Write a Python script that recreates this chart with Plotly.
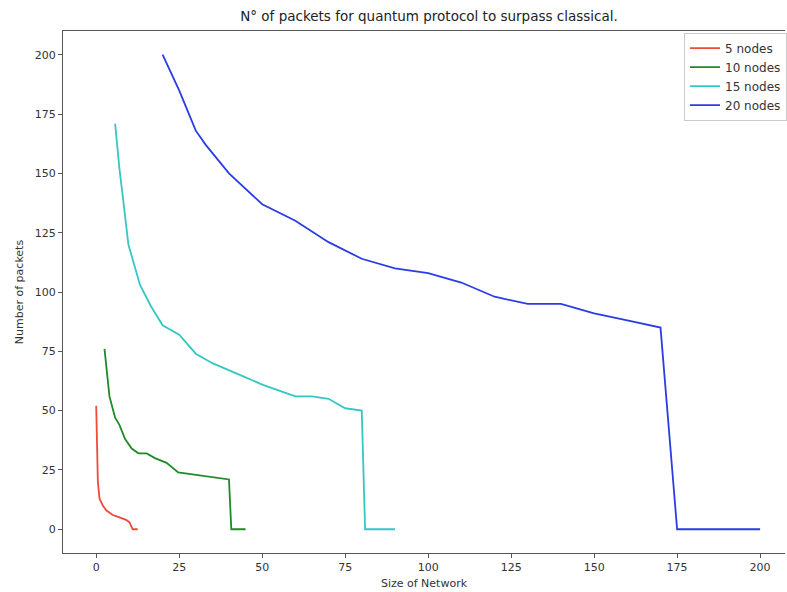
import plotly.graph_objects as go

# 5 nodes
x5 = [0, 0.5, 1, 2, 3, 4, 5, 6, 7, 8, 9, 10, 11, 12.5]
y5 = [52, 20, 13, 10, 8, 7, 6, 5.5, 5, 4.5, 4, 3, 0, 0]

# 10 nodes
x10 = [2.5, 4, 5.7, 7, 8.7, 10.7, 12.7, 15.2, 17.7, 21.2, 24.7, 40, 40.7, 45]
y10 = [76, 56, 47, 44, 38, 34, 32, 32, 30, 28, 24, 21, 0, 0]

# 15 nodes
x15 = [5.7, 7, 8.2, 9.7, 13.2, 16.5, 20, 25, 30, 35, 45, 50, 60, 65, 70, 75, 80, 81, 90]
y15 = [171, 152, 138, 120, 103, 94, 86, 82, 74, 70, 64, 61, 56, 56, 55, 51, 50, 0, 0]

# 20 nodes
x20 = [20, 25, 30, 33, 40, 50, 60, 70, 80, 90, 100, 110, 120, 130, 140, 150, 160, 170, 175, 200]
y20 = [200, 185, 168, 162, 150, 137, 130, 121, 114, 110, 108, 104, 98, 95, 95, 91, 88, 85, 0, 0]

names = ["5 nodes", "10 nodes", "15 nodes", "20 nodes"]
colors = ["#f04a3a", "#1f8a2a", "#34c8c2", "#2b3be6"]

xticks = [0, 25, 50, 75, 100, 125, 150, 175, 200]
yticks = [0, 25, 50, 75, 100, 125, 150, 175, 200]

fig = go.Figure()
for xs, ys, n, c in zip([x5, x10, x15, x20], [y5, y10, y15, y20], names, colors):
    fig.add_trace(go.Scatter(x=xs, y=ys, mode="lines", name=n,
                             line=dict(color=c, width=1.8)))

fig.update_layout(
    width=787, height=592,
    margin=dict(l=63, r=0, t=31, b=39),
    plot_bgcolor="white", paper_bgcolor="white",
    font=dict(family="DejaVu Sans", size=11, color="#333"),
    title=dict(text="N° of packets for quantum protocol to surpass classical.",
               x=(63 + 795) / 2 / 787, xanchor="center", y=1 - 16 / 592, yanchor="middle",
               font=dict(size=13.5, color="#222")),
    xaxis=dict(range=[-10, 207.5], tickvals=xticks, showgrid=False, zeroline=False,
               showline=True, linecolor="#555", linewidth=1.2, mirror=True,
               ticks="outside", ticklen=4, tickcolor="#555",
               title=dict(text="Size of Network", standoff=6, font=dict(size=11))),
    yaxis=dict(range=[-10, 210], tickvals=yticks, showgrid=False, zeroline=False,
               showline=True, linecolor="#555", linewidth=1.2,
               ticks="outside", ticklen=4, tickcolor="#555",
               title=dict(text="Number of packets", standoff=8, font=dict(size=11))),
    legend=dict(x=(686 - 63) / 724, xanchor="left", y=0.997, yanchor="top",
                bgcolor="white", bordercolor="#ccc", borderwidth=1,
                font=dict(size=12, color="#333"), itemwidth=30,
                tracegroupgap=0),
)

fig.write_html("out.html")
